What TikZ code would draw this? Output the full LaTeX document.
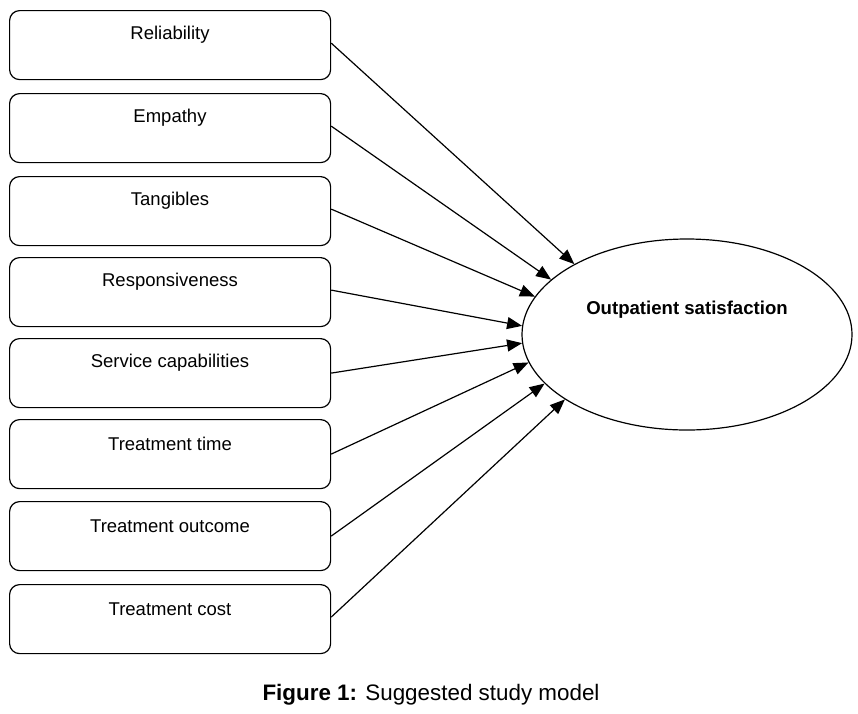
\documentclass[tikz,border=0pt]{standalone}
\usepackage{fontspec}
\setmainfont{Liberation Sans}
\usetikzlibrary{arrows.meta,shapes.geometric}
\begin{document}
\begin{tikzpicture}[x=1pt,y=-1pt,
  factor/.style={draw,line width=1.2pt,rounded corners=10pt,minimum width=321pt,minimum height=69pt,inner sep=0pt,anchor=north west},
  ftext/.style={font=\fontsize{18.5}{21}\selectfont,inner sep=0pt},
  link/.style={line width=1.2pt,-{Triangle[length=15pt,width=12pt]}}]
\useasboundingbox (0,0) rectangle (858,713);
\node[factor] (b1) at (9,10) {};
\node[factor] (b2) at (9,93) {};
\node[factor] (b3) at (9,176) {};
\node[factor] (b4) at (9,257) {};
\node[factor] (b5) at (9,338) {};
\node[factor] (b6) at (9,419) {};
\node[factor] (b7) at (9,501) {};
\node[factor] (b8) at (9,584) {};
\node[ftext] (t1) at (170,35) {Reliability};
\node[ftext] (t2) at (170,118) {Empathy};
\node[ftext] (t3) at (170,201) {Tangibles};
\node[ftext] (t4) at (170,282) {Responsiveness};
\node[ftext] (t5) at (170,363) {Service capabilities};
\node[ftext] (t6) at (170,444) {Treatment time};
\node[ftext] (t7) at (170,526) {Treatment outcome};
\node[ftext] (t8) at (170,609) {Treatment cost};
\node[draw,ellipse,line width=1.2pt,minimum width=330pt,minimum height=191pt,inner sep=0pt] (sat) at (687,334.5) {};
\node[font=\fontsize{18.6}{21}\selectfont\bfseries,inner sep=0pt] (satt) at (687,310) {Outpatient satisfaction};
\draw[link] ([yshift=2pt]b1.east) -- (sat.148.4);
\draw[link] ([yshift=2pt]b2.east) -- (sat.158.7);
\draw[link] ([yshift=2pt]b3.east) -- (sat.166.5);
\draw[link] ([yshift=2pt]b4.east) -- (sat.177.3);
\draw[link] ([yshift=0pt]b5.east) -- (sat.183);
\draw[link] ([yshift=0pt]b6.east) -- (sat.190.5);
\draw[link] ([yshift=0pt]b7.east) -- (sat.199.1);
\draw[link] ([yshift=2pt]b8.east) -- (sat.208.7);
\node[font=\fontsize{22.4}{26}\selectfont,inner sep=0pt] (cap) at (431,695) {\textbf{Figure 1:} Suggested study model};
\end{tikzpicture}
\end{document}
